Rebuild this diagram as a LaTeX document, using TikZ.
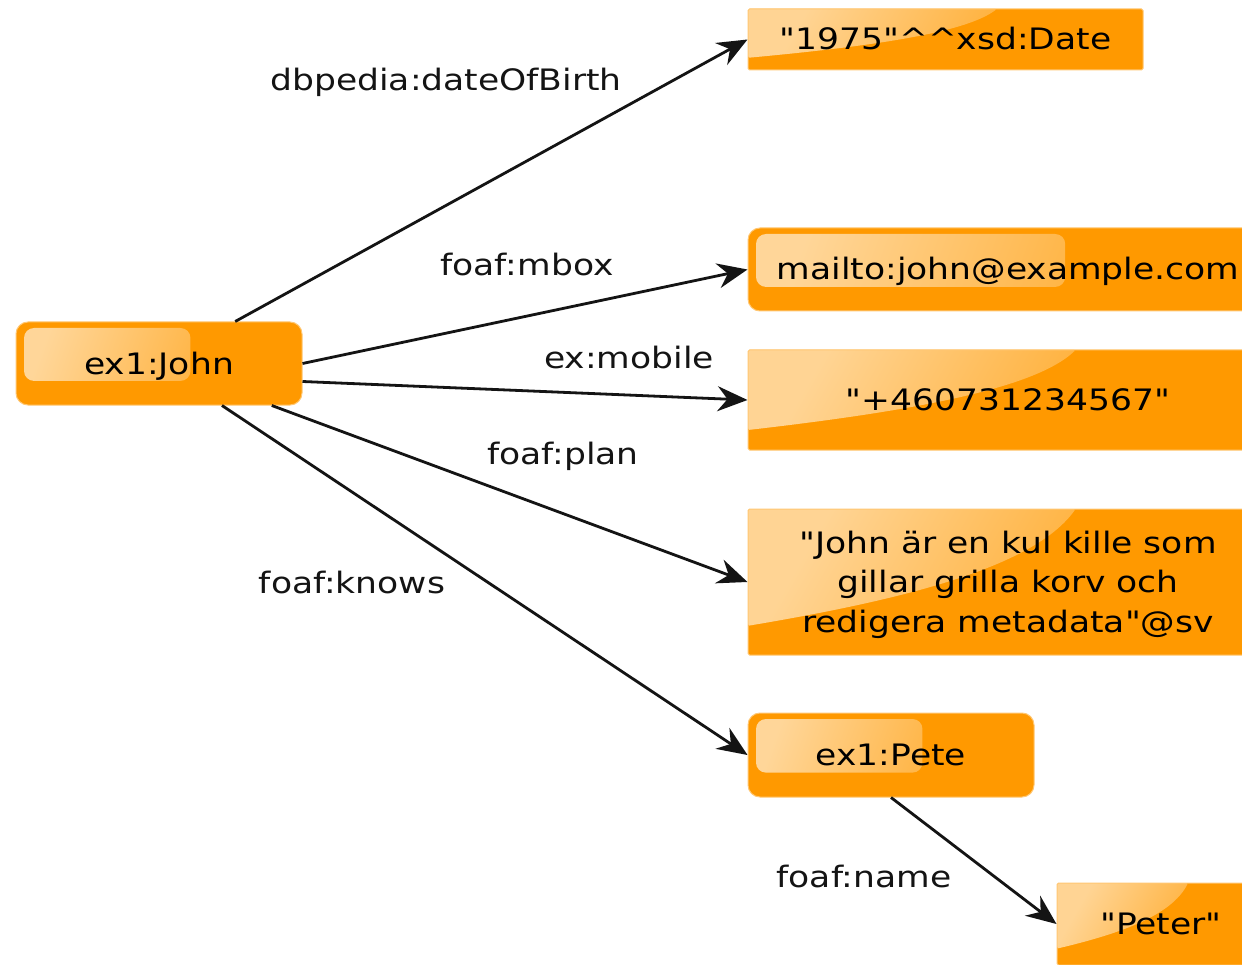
\documentclass[tikz,border=0pt]{standalone}
\usepackage{fontspec}
\setmainfont{DejaVu Sans}[FakeStretch=1.17, Ligatures=TeXOff]
\usetikzlibrary{arrows.meta,calc}

\definecolor{rdforange}{RGB}{255,153,0}
\definecolor{edgeink}{RGB}{20,20,20}

\tikzset{
  boxbase/.style={fill=rdforange, draw=rdforange!55!white, line width=1pt,
    inner sep=0pt, text=black, font=\fontsize{29.5}{39.5}\selectfont,
    text height=23pt, text depth=2pt},
  % rounded resource box with a glossy pill in its upper left part
  resource/.style={boxbase, rounded corners=12pt,
    path picture={
      \shade[rounded corners=10pt, top color=white!60!rdforange,
             bottom color=white!10!rdforange, shading angle=70]
        let \p1=(path picture bounding box.north west),
            \p2=(path picture bounding box.south east) in
        (\x1+8pt,\y1-6pt) rectangle ({\x1+0.61*(\x2-\x1)},{\y1-0.71*(\y1-\y2)});
    }},
  % square literal box with a curved sheen from the top left corner
  literal/.style={boxbase, rounded corners=1.5pt,
    path picture={
      \shade[top color=white!58!rdforange, bottom color=white!4!rdforange,
             shading angle=60]
        let \p1=(path picture bounding box.north west),
            \p2=(path picture bounding box.south east) in
        (\x1,\y1) -- ({\x1+0.63*(\x2-\x1)},\y1)
        .. controls ({\x1+0.55*(\x2-\x1)},{\y1-0.40*(\y1-\y2)})
               and ({\x1+0.30*(\x2-\x1)},{\y1-0.62*(\y1-\y2)})
        .. (\x1,{\y1-0.80*(\y1-\y2)}) -- cycle;
    }},
  edgelabel/.style={anchor=base, inner sep=0pt, text=edgeink,
    font=\fontsize{29.5}{39.5}\selectfont},
  edge/.style={draw=edgeink, line width=2.8pt,
    -{Stealth[length=30pt,width=25pt,inset=10pt]}},
}

\begin{document}
\begin{tikzpicture}[x=1pt,y=-1pt]
  \useasboundingbox (0,0) rectangle (1242,965);
  \fill[white] (0,0) rectangle (1242,965);
  \clip (0,0) rectangle (1242,965);

  % subject and objects
  \node[resource, minimum width=286pt, minimum height=83pt] (john) at (159,363.5) {ex1:John};
  \node[literal, minimum width=395pt, minimum height=61pt] (date) at (945.5,39.5) {"1975"\^{}\^{}xsd:Date};
  \node[resource, minimum width=520pt, minimum height=83pt] (mbox) at (1008,269.5) {mailto:john@example.com};
  \node[literal, minimum width=520pt, minimum height=100pt] (mobile) at (1008,400) {"+460731234567"};
  \node[literal, minimum width=520pt, minimum height=146pt, align=center,
        text height=102pt, text depth=2pt] (plan) at (1008,582)
        {"John är en kul kille som\\gillar grilla korv och\\redigera metadata"@sv};
  \node[resource, minimum width=286pt, minimum height=84pt] (pete) at (891,755) {ex1:Pete};
  \node[literal, minimum width=208pt, minimum height=82pt] (peter) at (1161,924) {"Peter"};

  % properties
  \draw[edge] (john) -- (date.west);
  \draw[edge] (john.east) -- (mbox.west);
  \draw[edge] ([yshift=-18pt]john.east) -- (mobile.west);
  \draw[edge] (john) -- (plan.west);
  \draw[edge] (john) -- (pete.west);
  \draw[edge] (pete.south) -- (peter.west);

  % property names
  \node[edgelabel] (lbirth) at (446,91) {dbpedia:dateOfBirth};
  \node[edgelabel] (lmbox) at (527,276) {foaf:mbox};
  \node[edgelabel] (lmobile) at (629,369) {ex:mobile};
  \node[edgelabel] (lplan) at (563,464) {foaf:plan};
  \node[edgelabel] (lknows) at (352,593) {foaf:knows};
  \node[edgelabel] (lname) at (864,887) {foaf:name};
\end{tikzpicture}
\end{document}
